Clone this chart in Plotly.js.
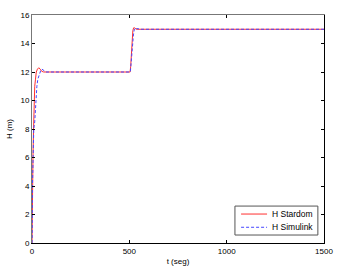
<!DOCTYPE html>
<html><head><meta charset="utf-8">
<script src="https://cdn.plot.ly/plotly-3.0.1.min.js"></script>
<style>html,body{margin:0;padding:0;background:#fff}#c{width:339px;height:271px}</style>
</head><body><div id="c"></div>
<script>
const stardomT = [0, 1, 3, 5, 8, 10, 14, 18, 22, 28, 35, 42, 50, 60, 80, 500, 504, 507, 510, 514, 518, 522, 527, 535, 560, 1500];
const stardomH = [0, 3.9, 4, 6, 8, 10, 11, 11.5, 12, 12.2, 12.3, 12.2, 12.05, 12, 12, 12, 12, 12.4, 13.3, 14.2, 14.9, 15.1, 15.1, 15, 15, 15];
const simulinkT = [0, 1, 2, 5, 9, 14, 19, 25, 30, 36, 41, 46, 51, 58, 65, 72, 90, 500, 505, 509, 513, 517, 521, 525, 530, 537, 560, 1500];
const simulinkH = [0, 0.5, 3.8, 5.5, 8, 8.5, 10, 11, 11.5, 11.8, 12, 12.15, 12.2, 12.15, 12.05, 12, 12, 12, 12, 12.6, 13.4, 14.1, 14.6, 14.95, 15.1, 15.05, 15, 15];
const xTicks = [0, 500, 1000, 1500];
const yTicks = [0, 2, 4, 6, 8, 10, 12, 14, 16];
const seriesNames = ['H Stardom', 'H Simulink'];
const seriesColors = ['#ff3030', '#4646ff'];
const seriesDash = ['solid', '3px,2px'];

const fam = 'Liberation Sans, Arial, sans-serif';
const tickFont = {family: fam, size: 8, color: '#000'};
const data = [
  {x: stardomT, y: stardomH, type: 'scatter', mode: 'lines', name: seriesNames[0],
   line: {color: seriesColors[0], width: 1, dash: seriesDash[0]}},
  {x: simulinkT, y: simulinkH, type: 'scatter', mode: 'lines', name: seriesNames[1],
   line: {color: seriesColors[1], width: 1, dash: seriesDash[1]}},
  {x: [0], y: [0], xaxis: 'x2', yaxis: 'y2', mode: 'markers', marker: {opacity: 0}, showlegend: false, hoverinfo: 'skip'}
];
// manual legend (compact, like MATLAB)
const legRows = [0.127, 0.069];
const shapes = [
  {type: 'rect', xref: 'paper', yref: 'paper', x0: 0.695, x1: 0.979, y0: 0.035, y1: 0.162,
   line: {color: '#555', width: 1}, fillcolor: '#fff', layer: 'above'}
];
const annotations = [];
seriesNames.forEach((n, i) => {
  shapes.push({type: 'line', xref: 'paper', yref: 'paper', x0: 0.716, x1: 0.805, y0: legRows[i], y1: legRows[i],
    line: {color: seriesColors[i], width: 1, dash: seriesDash[i]}, layer: 'above'});
  annotations.push({xref: 'paper', yref: 'paper', x: 0.815, y: legRows[i], xanchor: 'left', yanchor: 'middle',
    text: n, showarrow: false, font: {family: fam, size: 8.5, color: '#000'}});
});
const layout = {
  width: 339, height: 271,
  margin: {l: 32, r: 15, t: 15, b: 28},
  paper_bgcolor: '#fff', plot_bgcolor: '#fff',
  showlegend: false,
  font: tickFont,
  shapes: shapes, annotations: annotations,
  xaxis: {range: [0, 1500], tickvals: xTicks, ticks: 'inside', ticklen: 3, tickcolor: '#000',
    showgrid: false, zeroline: false, showline: true, linecolor: '#000', linewidth: 1,
    tickfont: tickFont, title: {text: 't (seg)', font: tickFont, standoff: 3}},
  yaxis: {range: [0, 16], tickvals: yTicks, ticks: 'inside', ticklen: 3, tickcolor: '#000',
    showgrid: false, zeroline: false, showline: true, linecolor: '#777', linewidth: 1,
    tickfont: tickFont, title: {text: 'H (m)', font: tickFont, standoff: 6}},
  xaxis2: {overlaying: 'x', matches: 'x', side: 'top', range: [0, 1500], tickvals: xTicks,
    ticks: 'inside', ticklen: 3, tickcolor: '#000', showticklabels: false, showgrid: false,
    zeroline: false, showline: true, linecolor: '#777', linewidth: 1},
  yaxis2: {overlaying: 'y', matches: 'y', side: 'right', range: [0, 16], tickvals: yTicks,
    ticks: 'inside', ticklen: 3, tickcolor: '#000', showticklabels: false, showgrid: false,
    zeroline: false, showline: true, linecolor: '#000', linewidth: 1}
};
Plotly.newPlot('c', data, layout, {staticPlot: true, displayModeBar: false});
</script></body></html>
